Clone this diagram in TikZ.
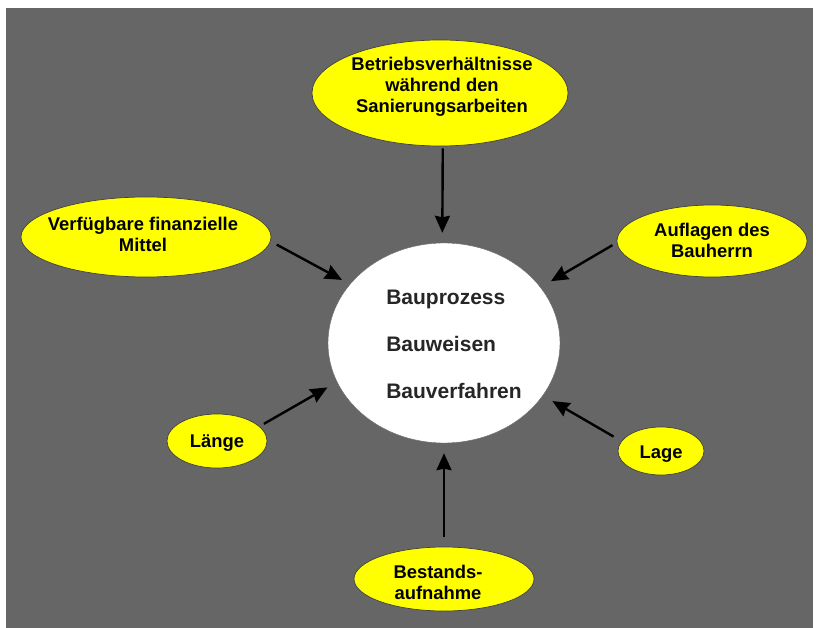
\documentclass[tikz,border=0pt]{standalone}
\usepackage{fontspec}
\setmainfont{Liberation Sans}
\usetikzlibrary{shapes.geometric,arrows.meta}
\definecolor{bggray}{HTML}{666666}
\definecolor{ovalyellow}{HTML}{FFFF00}

\begin{document}
\begin{tikzpicture}[x=1pt,y=-1pt,
  oval/.style={ellipse,draw=black!75,line width=0.7pt,fill=ovalyellow,inner sep=0pt},
  ovaltext/.style={align=center,inner sep=0pt,font=\fontsize{18.4}{21}\selectfont\bfseries},
  pfeil/.style={line width=2.4pt,-{Stealth[length=17pt,width=15pt,inset=1.5pt]}}]
\useasboundingbox (0,0) rectangle (816,628);
\fill[bggray] (6,8) rectangle (813,628);
% Mitte
\node[ellipse,draw=black!60,fill=white,minimum width=232pt,minimum height=200pt,inner sep=0pt] (kern) at (444,343) {};
\node[align=left,font=\fontsize{21}{25}\selectfont\bfseries,text=black!85] (kerntext) at (454,344)
  {Bauprozess\\[22pt]Bauweisen\\[22pt]Bauverfahren};
% Einflussgroessen
\node[oval,minimum width=256pt,minimum height=106pt] (betrieb) at (440,93) {};
\node[oval,minimum width=250pt,minimum height=80pt] (mittel) at (146,237) {};
\node[oval,minimum width=190pt,minimum height=72pt] (bauherr) at (712,241) {};
\node[oval,minimum width=100pt,minimum height=54pt] (laenge) at (217,441) {};
\node[oval,minimum width=86pt,minimum height=48pt] (lage) at (661,451) {};
\node[oval,minimum width=180pt,minimum height=64pt] (bestand) at (444,579) {};
\node[ovaltext] (betriebtext) at ([xshift=2pt,yshift=6pt]betrieb) {Betriebsverhältnisse\\während den\\Sanierungsarbeiten};
\node[ovaltext] (mitteltext) at ([xshift=-3pt,yshift=3pt]mittel) {Verfügbare finanzielle\\Mittel};
\node[ovaltext] (bauherrtext) at ([yshift=1pt]bauherr) {Auflagen des\\Bauherrn};
\node[ovaltext] (laengetext) at ([yshift=-2pt]laenge) {Länge};
\node[ovaltext] (lagetext) at ([yshift=-3pt]lage) {Lage};
\node[ovaltext] (bestandtext) at ([xshift=-6pt,yshift=-3pt]bestand) {Bestands-\\aufnahme};
% Pfeile
\draw[pfeil,shorten <=2pt,shorten >=10pt] (betrieb.-87) -- (kern.91);
\draw[pfeil,shorten <=7pt,shorten >=9pt] (mittel.-2) -- (kern.148.5);
\draw[pfeil,shorten <=5pt,shorten >=12pt] (bauherr.181) -- (kern.30.4);
\draw[pfeil,shorten <=5pt,shorten >=11pt] (laenge.19.3) -- (kern.200.5);
\draw[pfeil,shorten <=9pt,shorten >=11pt] (lage.166.3) -- (kern.-28.6);
\draw[pfeil,shorten <=10pt,shorten >=10pt] (bestand.north) -- (kern.south);
\end{tikzpicture}
\end{document}
